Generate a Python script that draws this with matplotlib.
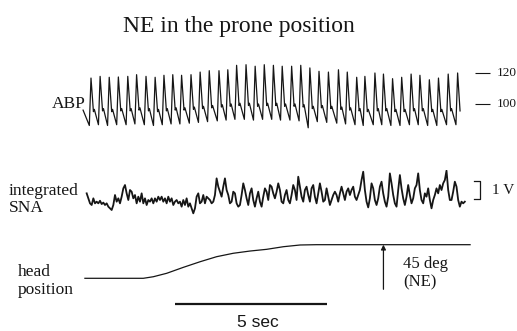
import matplotlib.pyplot as plt
import numpy as np

# Bildgroesse (Pixel) und Zeitachse
W, H = 517, 331
PX_PER_SEC = 30.4
T_LEFT = -84 / PX_PER_SEC
T_RIGHT = (W - 84) / PX_PER_SEC

# ABP: Zeitpunkte der systolischen Spitzen (s) und Druckwerte (mmHg)
abp_peak_t = [0.23, 0.53, 0.83, 1.13, 1.44, 1.73, 2.04, 2.34, 2.63, 2.92,
              3.21, 3.52, 3.82, 4.12, 4.44, 4.73, 5.02, 5.33, 5.63, 5.93,
              6.23, 6.52, 6.83, 7.13, 7.43, 7.73, 8.04, 8.37, 8.66, 8.97,
              9.24, 9.57, 9.85, 10.15, 10.45, 10.76, 11.05, 11.36, 11.66, 11.98,
              12.29]
abp_sys = [116.9, 118.0, 117.4, 117.6, 118.0, 119.1, 118.0, 117.4, 118.7, 119.1,
           118.7, 119.1, 120.8, 121.7, 121.7, 122.3, 125.2, 125.6, 124.6, 125.6,
           125.2, 124.6, 124.6, 125.2, 123.5, 121.3, 120.8, 122.3, 120.8, 117.4,
           118.0, 120.2, 119.5, 116.5, 117.4, 119.5, 118.7, 115.8, 116.9, 119.5,
           120.2]
abp_dia = [86.0, 86.5, 86.0, 86.5, 86.5, 87.0, 86.5, 86.0, 86.5, 87.0,
           87.0, 87.5, 88.0, 88.5, 89.0, 89.5, 90.0, 90.0, 89.5, 90.0,
           90.0, 89.5, 89.5, 89.0, 84.5, 88.5, 88.0, 87.5, 87.0, 86.5,
           86.0, 86.5, 86.5, 86.0, 86.0, 86.5, 86.5, 86.0, 86.0, 86.5,
           86.5]
abp_notch = [95.0, 95.5, 95.0, 95.5, 95.5, 96.0, 95.5, 95.0, 95.5, 96.0,
             96.0, 96.5, 97.0, 97.5, 98.0, 98.5, 99.0, 99.0, 98.5, 99.0,
             99.0, 98.5, 98.5, 98.0, 97.0, 97.5, 97.0, 96.5, 96.0, 95.5,
             95.0, 95.5, 95.5, 95.0, 95.0, 95.5, 95.5, 95.0, 95.0, 95.5,
             95.5]
abp_start_t, abp_start_p = -0.03, 96.0

sna_t0 = 0.088
sna_dt = 0.0548
sna_v = [1.17, 0.90, 0.63, 0.54, 0.90, 0.63, 0.72, 0.63, 0.77, 0.59,
         0.67, 0.54, 0.63, 0.45, 0.36, 0.27, 0.54, 1.08, 0.72, 0.90,
         0.63, 0.99, 1.44, 1.62, 1.17, 0.81, 1.35, 1.26, 0.90, 1.08,
         0.63, 0.99, 0.72, 1.17, 0.63, 0.90, 0.54, 0.81, 0.72, 0.90,
         0.63, 0.90, 0.72, 0.99, 0.81, 0.99, 0.72, 0.90, 0.63, 0.99,
         0.72, 0.90, 0.54, 0.72, 0.81, 0.63, 0.72, 0.45, 0.81, 0.54,
         0.90, 0.45, 0.63, 0.36, 0.09, 0.36, 0.99, 1.17, 0.63, 0.72,
         1.08, 0.63, 0.99, 0.90,
         0.81, 0.63, 0.72, 1.08, 1.98, 1.53, 1.26, 0.99, 1.53, 1.98,
         1.35, 1.08, 0.63, 0.72, 1.26, 1.17, 0.63, 0.45, 0.54, 1.08,
         1.71, 1.35, 0.90, 0.54, 1.17, 1.44, 0.81, 0.45, 0.90, 1.26,
         0.72, 0.45, 0.99, 1.44, 1.26, 0.81, 1.62, 1.53, 1.17, 0.90,
         1.26, 1.71, 1.35, 0.72, 0.63, 1.08, 1.35, 0.81, 0.63, 1.08,
         1.62, 1.35, 0.81, 2.07, 1.53, 0.99, 0.72, 1.35, 1.53, 1.08,
         0.72, 1.44, 1.62, 0.99, 0.63, 1.17, 1.71, 1.26, 0.72, 0.81,
         1.44, 0.99, 0.54, 0.81, 1.08,
         1.26, 1.08, 0.72, 1.17, 1.53, 1.17, 0.81, 1.26, 1.44, 1.08,
         1.35, 1.53, 0.99, 0.81, 1.08, 1.35, 1.89, 2.34, 1.35, 0.72,
         0.41, 0.90, 1.71, 1.44, 0.81, 0.54, 0.90, 1.53, 1.80, 1.17,
         0.72, 0.45, 0.99, 2.25, 1.71, 1.08, 0.63, 0.45, 1.35, 2.16,
         1.44, 0.90, 0.54, 0.99, 1.62, 1.08, 0.63, 0.90, 1.44, 1.62,
         2.25, 1.35, 0.81, 0.63, 1.17, 0.99, 1.44, 0.81, 0.36, 0.81,
         1.08, 1.44, 1.17, 1.62, 1.35, 1.71, 1.89, 2.40, 1.35, 0.81,
         0.81, 1.26, 1.80, 1.53, 0.81, 0.45, 0.72, 0.63, 0.72]

# Kopfposition (Grad)
head_t = [0.03, 1.95, 2.28, 2.72, 3.27, 3.82, 4.36, 4.91, 5.46, 6.01, 6.56, 7.11, 7.65, 12.70]
head_deg = [0, 0, 2.1, 6.7, 14.7, 22.2, 28.9, 33.5, 36.5, 38.8, 42.3, 44.6, 45, 45]
head_arrow_t = 9.85

serif = ['Liberation Serif', 'DejaVu Serif']
ink = '#161616'


def fx(x):
    return x / W


def fy(y):
    return 1 - y / H


def t_of(x):
    return (x - 84) / PX_PER_SEC


def panel(top_px, bot_px, v_top, v_bot):
    ax = fig.add_axes([0, fy(bot_px), 1, (bot_px - top_px) / H])
    ax.set_xlim(T_LEFT, T_RIGHT)
    ax.set_ylim(v_bot, v_top)
    ax.axis('off')
    return ax


fig = plt.figure(figsize=(W / 100, H / 100), dpi=100)

# ABP-Kurve aus den Schlagwerten
t_pts, p_pts = [abp_start_t], [abp_start_p]
for i, tp in enumerate(abp_peak_t):
    t_pts += [tp - 0.055, tp, tp + 0.08]
    p_pts += [abp_dia[i], abp_sys[i], abp_notch[i]]
    if i < len(abp_peak_t) - 1:
        t_pts.append(tp + 0.11)
        p_pts.append(abp_notch[i] + 1.5)

ax1 = panel(55, 135, 131.92, 79.80)
ax1.plot(t_pts, p_pts, color=ink, lw=0.9)
ax1.hlines([120, 100], t_of(475), t_of(490), color=ink, lw=0.8)
for v in [120, 100]:
    ax1.text(t_of(497), v, str(v), family=serif, fontsize=9.5,
             va='center', ha='left', color=ink)

# SNA
ax2 = panel(170, 225, 2.432, -0.541)
sna_t = sna_t0 + sna_dt * np.arange(len(sna_v))
ax2.plot(sna_t, sna_v, color=ink, lw=1.3)
ax2.plot([t_of(474), t_of(480), t_of(480), t_of(474)], [1.85, 1.85, 0.85, 0.85],
         color=ink, lw=0.9)
ax2.text(t_of(491.5), 1.35, '1 V', family=serif, fontsize=11, va='center',
         ha='left', color=ink)

# Kopfposition
ax3 = panel(235, 315, 57.97, -49.13)
ax3.plot(head_t, head_deg, color=ink, lw=0.9)
ax3.annotate('', xy=(head_arrow_t, 45), xytext=(head_arrow_t, -14.7),
             arrowprops=dict(arrowstyle='-|>', lw=0.9, color=ink,
                             mutation_scale=7, shrinkA=0, shrinkB=0))
ax3.plot([3.0, 8.0], [-34.4, -34.4], color=ink, lw=1.6, solid_capstyle='butt')

# Beschriftungen
fig.text(fx(123), fy(32), 'NE in the prone position', family=serif,
         fontsize=17, ha='left', va='baseline', color=ink)
fig.text(fx(52), fy(108), 'ABP', family=serif, fontsize=12.5,
         ha='left', va='baseline', color=ink)
fig.text(fx(9), fy(195), 'integrated', family=serif, fontsize=12.5,
         ha='left', va='baseline', color=ink)
fig.text(fx(9), fy(212.5), 'SNA', family=serif, fontsize=12.5,
         ha='left', va='baseline', color=ink)
fig.text(fx(18), fy(276.5), 'head', family=serif, fontsize=12.5,
         ha='left', va='baseline', color=ink)
fig.text(fx(18), fy(294), 'position', family=serif, fontsize=12.5,
         ha='left', va='baseline', color=ink)
fig.text(fx(403), fy(268), '45 deg', family=serif, fontsize=12,
         ha='left', va='baseline', color=ink)
fig.text(fx(403), fy(286), '(NE)', family=serif, fontsize=12,
         ha='left', va='baseline', color=ink)
fig.text(fx(237), fy(327), '5 sec', family=['Liberation Sans', 'DejaVu Sans'],
         fontsize=12.5, ha='left', va='baseline', color=ink)

fig.savefig('out.png', dpi=100)
